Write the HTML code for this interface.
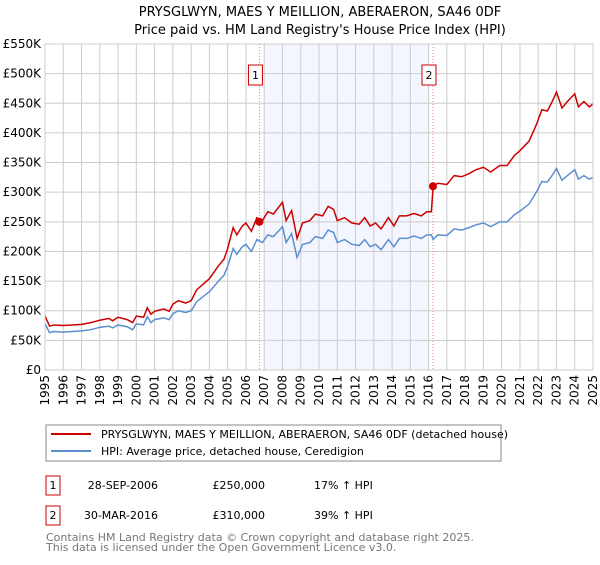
<!DOCTYPE html>
<html><head><meta charset="utf-8"><style>
body{margin:0;background:#fff;font-family:"Liberation Sans","DejaVu Sans",sans-serif;}
svg text{font-family:"DejaVu Sans","Liberation Sans",sans-serif;}
</style></head><body>
<svg id="chart" width="600" height="560" viewBox="0 0 600 560">
<text x="320" y="16" text-anchor="middle" font-size="13" fill="#000">PRYSGLWYN, MAES Y MEILLION, ABERAERON, SA46 0DF</text>
<text x="320" y="34" text-anchor="middle" font-size="13" fill="#000">Price paid vs. HM Land Registry's House Price Index (HPI)</text>
<g id="plot"></g>
<g>
<rect x="46" y="425" width="455" height="36" fill="#fff" stroke="#888"/>
<line x1="51" y1="434" x2="91" y2="434" stroke="#cc0000" stroke-width="2"/>
<text x="101" y="438" font-size="11">PRYSGLWYN, MAES Y MEILLION, ABERAERON, SA46 0DF (detached house)</text>
<line x1="51" y1="451" x2="91" y2="451" stroke="#5b8fd0" stroke-width="2"/>
<text x="101" y="455" font-size="11">HPI: Average price, detached house, Ceredigion</text>
</g>
<g font-size="11">
<rect x="46" y="476" width="14" height="19" fill="#fff" stroke="#cc0000"/>
<text x="53" y="489" text-anchor="middle">1</text>
<text x="158" y="489" text-anchor="end">28-SEP-2006</text>
<text x="265" y="489" text-anchor="end">£250,000</text>
<text x="314" y="489">17% ↑ HPI</text>
<rect x="46" y="506" width="14" height="19" fill="#fff" stroke="#cc0000"/>
<text x="53" y="519" text-anchor="middle">2</text>
<text x="158" y="519" text-anchor="end">30-MAR-2016</text>
<text x="265" y="519" text-anchor="end">£310,000</text>
<text x="314" y="519">39% ↑ HPI</text>
</g>
<text x="46" y="541" font-size="11" fill="#777">Contains HM Land Registry data © Crown copyright and database right 2025.</text>
<text x="46" y="551" font-size="11" fill="#777">This data is licensed under the Open Government Licence v3.0.</text>
</svg>
<script>
const years=[1995.0,1995.25,1995.5,1996,1996.5,1997,1997.5,1998,1998.5,1998.7,1999,1999.5,1999.8,2000,2000.4,2000.6,2000.8,2001,2001.5,2001.8,2002,2002.3,2002.7,2003,2003.3,2003.7,2004,2004.5,2004.8,2005,2005.3,2005.5,2005.8,2006,2006.3,2006.6,2006.9,2007.2,2007.5,2007.8,2008.0,2008.2,2008.5,2008.8,2009.1,2009.5,2009.8,2010.2,2010.5,2010.8,2011.0,2011.4,2011.8,2012.2,2012.5,2012.8,2013.1,2013.4,2013.8,2014.1,2014.4,2014.8,2015.2,2015.6,2015.9,2016.15,2016.25,2016.5,2017.0,2017.4,2017.8,2018.2,2018.6,2019.0,2019.4,2019.9,2020.3,2020.7,2021.0,2021.5,2021.9,2022.2,2022.5,2022.8,2023.0,2023.3,2023.6,2024.0,2024.2,2024.5,2024.8,2025.0];
const hpiValues=[78,63,65,64,65,66,68,72,74,71,76,73,68,78,76,90,80,85,88,85,95,100,97,100,115,125,132,150,160,175,205,195,208,212,200,220,215,228,225,235,242,215,230,190,212,215,225,222,236,232,215,220,212,210,220,208,212,203,220,208,222,222,226,222,228,228,220,228,227,238,236,240,245,248,242,250,250,262,268,280,300,318,317,330,340,320,328,338,322,328,322,325];
const priceValues=[91,74,76,75,76,77,80,84,87,83,89,85,80,91,89,105,94,99,103,99,111,117,113,117,135,146,154,176,187,205,240,228,243,248,234,257,252,267,263,275,283,252,269,222,248,252,263,260,276,271,252,257,248,246,257,243,248,238,257,243,260,260,264,260,267,267,310,315,313,328,326,331,338,342,334,345,345,362,370,386,414,439,437,455,469,442,453,466,444,453,444,449];
const saleYears=[2006.74,2016.24];
const saleValues=[250,310];
const yTicks=[0,50,100,150,200,250,300,350,400,450,500,550];
const yTickLabels=["£0","£50K","£100K","£150K","£200K","£250K","£300K","£350K","£400K","£450K","£500K","£550K"];
const xTicks=[1995,1996,1997,1998,1999,2000,2001,2002,2003,2004,2005,2006,2007,2008,2009,2010,2011,2012,2013,2014,2015,2016,2017,2018,2019,2020,2021,2022,2023,2024,2025];

const NS="http://www.w3.org/2000/svg";
const L=45,R=593,T=44,B=370;
const xs=y=>L+(y-1995)/30*(R-L);
const ys=v=>B-v/550*(B-T);
const g=document.getElementById('plot');
function mk(tag,attrs){const e=document.createElementNS(NS,tag);for(const k in attrs)e.setAttribute(k,attrs[k]);g.appendChild(e);return e;}
const bg=mk('rect',{x:L,y:T,width:R-L,height:B-T,fill:'#fff'});


const sh=mk('rect',{x:xs(2007),y:T,width:xs(2016)-xs(2007),height:B-T,fill:'#f3f6fe'});


yTicks.forEach((v,i)=>{
 const ln=mk('line',{x1:L,x2:R,y1:ys(v),y2:ys(v),stroke:'#cccccc','stroke-width':1});
 
 
 const t=mk('text',{x:L-4,y:ys(v)+4,'text-anchor':'end','font-size':12,fill:'#000'});
 t.textContent=yTickLabels[i];
 
 
});
xTicks.forEach(y=>{
 const ln=mk('line',{x1:xs(y),x2:xs(y),y1:T,y2:B,stroke:'#cccccc','stroke-width':1});
 
 
 const t=mk('text',{x:0,y:0,'text-anchor':'end','font-size':12,fill:'#000',transform:`translate(${xs(y)+4},${B+5}) rotate(-90)`});
 t.textContent=y;
 
 
});
saleYears.forEach((y,i)=>{
 const ln=mk('line',{x1:xs(y),x2:xs(y),y1:T,y2:B,stroke:'#f08080','stroke-width':1,'stroke-dasharray':'1,2'});
 
 
});
const hp=mk('polyline',{points:years.map((y,i)=>xs(y)+','+ys(hpiValues[i])).join(' '),fill:'none',stroke:'#5b8fd0','stroke-width':1.5});


const pp=mk('polyline',{points:years.map((y,i)=>xs(y)+','+ys(priceValues[i])).join(' '),fill:'none',stroke:'#cc0000','stroke-width':1.5});


saleYears.forEach((y,i)=>{
 const c=mk('circle',{cx:xs(y),cy:ys(saleValues[i]),r:4,fill:'#cc0000'});
 
 
 const bx=mk('rect',{x:xs(y)-11,y:65,width:14,height:20,fill:'#fff',stroke:'#cc0000'});
 
 
 const t=mk('text',{x:xs(y)-4,y:79,'text-anchor':'middle','font-size':11,fill:'#000'});
 t.textContent=String(i+1);
 
 
});
const fr=mk('rect',{x:L,y:T,width:R-L,height:B-T,fill:'none',stroke:'#cccccc'});


</script>
</body></html>
